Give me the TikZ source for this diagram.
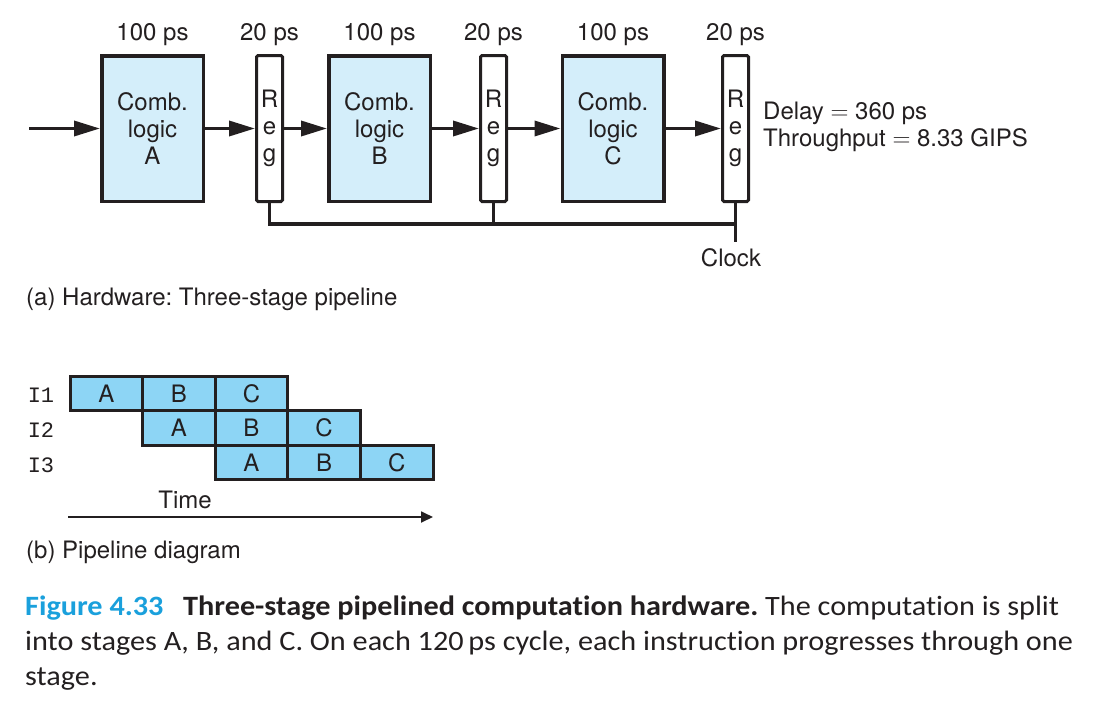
\documentclass[tikz,border=0pt]{standalone}
\usepackage{fontspec}
\setmainfont{TeX Gyre Heros}
\newfontfamily\capfont[FakeStretch=1.08,Ligatures=NoCommon]{Carlito}
\newfontfamily\labmono{Liberation Mono}
\usetikzlibrary{arrows.meta}
\definecolor{combfill}{HTML}{D4EEFA}
\definecolor{cellfill}{HTML}{8DD5F5}
\definecolor{figblue}{HTML}{1AA0DC}
\definecolor{ink}{HTML}{231F20}
\frenchspacing
\begin{document}
\begin{tikzpicture}[x=1pt,y=-1pt,
  every node/.style={font=\fontsize{24}{27}\selectfont, inner sep=0pt, text=ink},
  combbox/.style={draw=ink, line width=3.5pt, fill=combfill, minimum width=101.5pt, minimum height=145.5pt, align=center},
  regbox/.style={draw=ink, line width=3pt, fill=white, minimum width=26pt, minimum height=146pt, rounded corners=1.5pt, align=center},
  wire/.style={draw=ink, line width=3.5pt, -{Triangle[length=26pt,width=15pt]}},
  clkwire/.style={draw=ink, line width=3.5pt},
  cellbox/.style={draw=ink, line width=3pt, fill=cellfill, minimum width=72.6pt, minimum height=34.5pt},
  rowlab/.style={font=\labmono\fontsize{22}{24}\selectfont},
  captext/.style={font=\capfont\fontsize{28}{30}\selectfont, anchor=base west}
]
\useasboundingbox (0,0) rectangle (1115,707);

% ---------- (a) hardware ----------
\node[combbox] (A) at (152.5,128.5) {Comb.\\logic\\A};
\node[regbox]  (R1) at (269.5,128.5) {R\\e\\g};
\node[combbox] (B) at (379.5,128.5) {Comb.\\logic\\B};
\node[regbox]  (R2) at (493.5,128.5) {R\\e\\g};
\node[combbox] (C) at (613,128.5) {Comb.\\logic\\C};
\node[regbox]  (R3) at (735.5,128.5) {R\\e\\g};

\node (tA) at (152.5,35) {100 ps};
\node (t1) at (269.5,35) {20 ps};
\node (tB) at (379.5,35) {100 ps};
\node (t2) at (493.5,35) {20 ps};
\node (tC) at (613,35) {100 ps};
\node (t3) at (735.5,35) {20 ps};

\coordinate (in) at (29,128.5);
\draw[wire] (in) -- (A.west);
\draw[wire] (A.east) -- (R1.west);
\draw[wire] (R1.east) -- (B.west);
\draw[wire] (B.east) -- (R2.west);
\draw[wire] (R2.east) -- (C.west);
\draw[wire] (C.east) -- (R3.west);

\coordinate (bus) at (0,224);
\coordinate (clk) at (735.5,242);
\draw[clkwire] (R1.south) |- (R3.south |- bus);
\draw[clkwire] (R2.south) -- (R2.south |- bus);
\draw[clkwire] (R3.south) -- (clk);
\node[anchor=north] (clock) at (731,248) {Clock};

\node[anchor=west, align=left] (perf) at (763,127) {Delay $=$ 360 ps\\Throughput $=$ 8.33 GIPS};

\node[anchor=base west] (capa) at (26,305) {(a) Hardware: Three-stage pipeline};

% ---------- (b) pipeline diagram ----------
\node[cellbox] (a1) at (106.3,393.5) {A};
\node[cellbox] (b1) at (178.9,393.5) {B};
\node[cellbox] (c1) at (251.5,393.5) {C};
\node[cellbox] (a2) at (178.9,428) {A};
\node[cellbox] (b2) at (251.5,428) {B};
\node[cellbox] (c2) at (324.1,428) {C};
\node[cellbox] (a3) at (251.5,462.5) {A};
\node[cellbox] (b3) at (324.1,462.5) {B};
\node[cellbox] (c3) at (396.7,462.5) {C};

\node[rowlab] (i1) at (41,395) {I1};
\node[rowlab] (i2) at (41,430) {I2};
\node[rowlab] (i3) at (41,465) {I3};

\node (time) at (185,500) {Time};
\coordinate (t0) at (68,517);
\coordinate (t1e) at (433,517);
\draw[draw=ink, line width=1.8pt, -{Triangle[length=12pt,width=11pt]}] (t0) -- (t1e);

\node[anchor=base west] (capb) at (26,558) {(b) Pipeline diagram};

% ---------- caption ----------
\node[captext] (cap1) at (25,615) {\textcolor{figblue}{\bfseries Figure 4.33}\hspace{0.7em}{\bfseries Three-stage pipelined computation hardware.} The computation is split};
\node[captext] (cap2) at (25,650) {into stages A, B, and C. On each 120\,ps cycle, each instruction progresses through one};
\node[captext] (cap3) at (25,685) {stage.};
\end{tikzpicture}
\end{document}
